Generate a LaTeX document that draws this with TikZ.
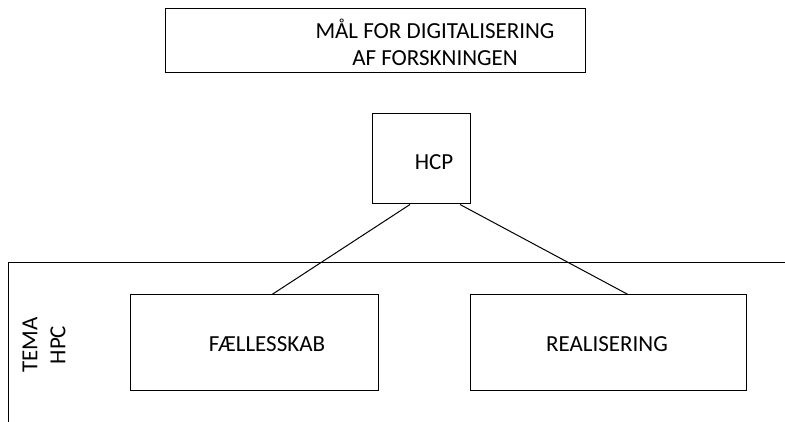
\documentclass[tikz,border=0pt]{standalone}
\usepackage{fontspec}
\setmainfont{Carlito}
\begin{document}
\begin{tikzpicture}[x=1pt,y=-1pt,
  box/.style={draw,line width=1pt,inner sep=0pt},
  lbl/.style={inner sep=0pt,font=\fontsize{23}{27}\selectfont,align=center},
  link/.style={line width=1pt}]
\useasboundingbox (0,0) rectangle (785,422);
\node[box,minimum width=420,minimum height=64] (goal) at (375,41) {};
\node[lbl] (goaltxt) at ([xshift=60pt,yshift=-1pt]goal.center) {MÅL FOR DIGITALISERING\\AF FORSKNINGEN};
\node[box,minimum width=98,minimum height=90] (hcp) at (421,159) {};
\node[lbl] (hcptxt) at ([xshift=13pt,yshift=-3pt]hcp.center) {HCP};
\node[box,minimum width=248,minimum height=95] (faell) at (254,342.5) {};
\node[lbl] (faelltxt) at ([xshift=13pt,yshift=-2pt]faell.center) {FÆLLESSKAB};
\node[box,minimum width=276,minimum height=95] (real) at (608,342.5) {};
\node[lbl] (realtxt) at ([xshift=-1pt,yshift=-2pt]real.center) {REALISERING};
\coordinate (fr) at (785,263);
\coordinate (fl) at (8,263);
\coordinate (fb) at (8,422);
\draw[link] (fr) -- (fl) -- (fb);
\node[font=\fontsize{23}{28}\selectfont,align=center,rotate=90] (tema) at (44,345) {TEMA\\HPC};
\draw[link] ([xshift=-11pt]hcp.south) -- ([xshift=18pt]faell.north);
\draw[link] ([xshift=39pt]hcp.south) -- ([xshift=20pt]real.north);
\end{tikzpicture}
\end{document}
